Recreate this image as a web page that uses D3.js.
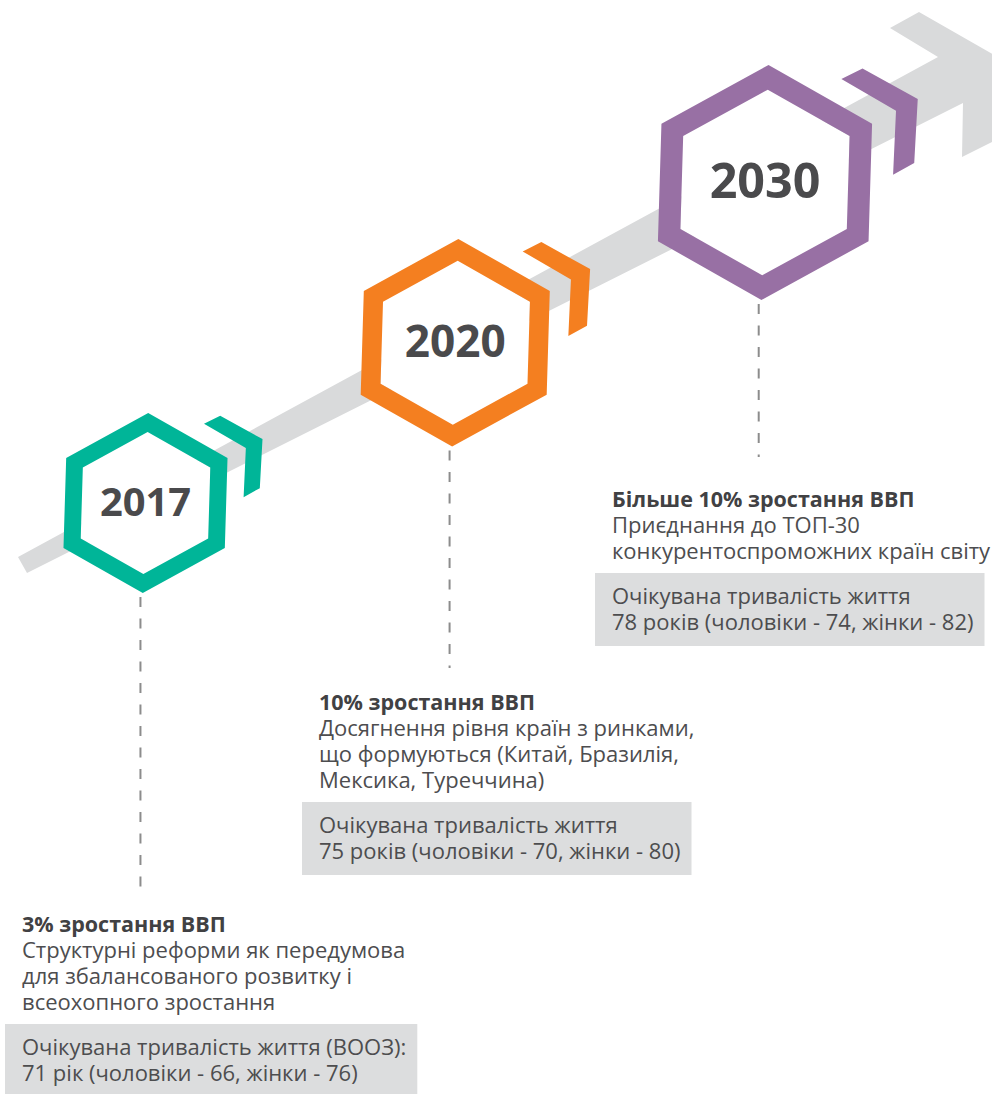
<!DOCTYPE html>
<html lang="uk">
<head>
<meta charset="UTF-8">
<title>Цілі розвитку 2017–2030</title>
<script src="https://d3js.org/d3.v7.min.js"></script>
<style>
  body { margin: 0; background: #fff; }
  svg { display: block; }
  text { font-family: "Open Sans", sans-serif; }
</style>
</head>
<body>
<script>
var w = 992, h = 1094;

// data
var years = [2017, 2020, 2030];
var titles = ["3% зростання ВВП", "10% зростання ВВП", "Більше 10% зростання ВВП"];
var goals = [
  ["Структурні реформи як передумова", "для збалансованого розвитку і", "всеохопного зростання"],
  ["Досягнення рівня країн з ринками,", "що формуються (Китай, Бразилія,", "Мексика, Туреччина)"],
  ["Приєднання до ТОП-30", "конкурентоспроможних країн світу"]
];
var lifeLines = [
  ["Очікувана тривалість життя (ВООЗ):", "71 рік (чоловіки - 66, жінки - 76)"],
  ["Очікувана тривалість життя", "75 років (чоловіки - 70, жінки - 80)"],
  ["Очікувана тривалість життя", "78 років (чоловіки - 74, жінки - 82)"]
];

// layout
var colors = ["#00b598", "#f47f20", "#9870a4"];
var blockX = [22, 319, 612];
var titleY = [932, 710, 507];
var lineEnd = [896, 668, 457];
var lineH = 26;

var svg = d3.select("body").append("svg")
  .attr("width", w)
  .attr("height", h);

// scales
var xScale = d3.scalePoint().domain(years).range([145.5, 765]);
var yScale = d3.scalePoint().domain(years).range([503, 182.5]);
var rScale = d3.scaleLinear().domain([0, 2]).range([90, 117.5]);
var color = d3.scaleOrdinal().domain(years).range(colors);

// grey arrow behind everything
var arrow = [
  [18, 557], [938, 57], [890, 28], [919, 12], [1010, 64], [1010, 133],
  [962, 157], [963, 103], [27, 573]
];
svg.append("path")
  .attr("d", d3.line()(arrow) + "Z")
  .attr("fill", "#d9dadb");

// hexagon vertices, slightly stretched and skewed like the original
function hexPoints(cx, cy, r) {
  var pts = [];
  for (var i = 0; i < 6; i++) {
    var a = Math.PI / 180 * (-90 + 60 * i);
    var x = Math.cos(a) * r * 1.035, y = Math.sin(a) * r;
    pts.push([cx + x - 0.03 * y, cy + y]);
  }
  return pts;
}
var chevron = [[0.65, -0.88], [0.83, -0.97], [1.30, -0.71], [1.27, -0.165], [1.09, -0.065], [1.115, -0.61]];

var marks = svg.selectAll("g.mark")
  .data(years)
  .enter()
  .append("g")
  .attr("class", "mark");

marks.each(function(d, i) {
  var g = d3.select(this);
  var cx = xScale(d), cy = yScale(d), r = rScale(i);
  var outer = hexPoints(cx, cy, r), inner = hexPoints(cx, cy, r * 0.79);

  // dashed connector
  g.append("line")
    .attr("x1", cx - 0.045 * r - 1)
    .attr("x2", cx - 0.045 * r - 1)
    .attr("y1", cy + r + 4)
    .attr("y2", lineEnd[i])
    .attr("stroke", "#8c8c8c")
    .attr("stroke-width", 2)
    .attr("stroke-dasharray", "10,11.5");

  g.append("path")
    .attr("d", d3.line()(inner) + "Z")
    .attr("fill", "#fff");

  g.append("path")
    .attr("d", d3.line()(outer) + "Z" + d3.line()(inner) + "Z")
    .attr("fill-rule", "evenodd")
    .attr("fill", color(d));

  g.append("path")
    .attr("d", d3.line()(chevron.map(function(p) { return [cx + p[0] * r, cy + p[1] * r]; })) + "Z")
    .attr("fill", color(d));

  var fs = 12 + 0.31 * r;
  g.append("text")
    .attr("x", cx)
    .attr("y", cy + 0.33 * fs)
    .attr("text-anchor", "middle")
    .attr("font-size", fs)
    .attr("font-weight", 700)
    .attr("fill", "#4a4a4c")
    .text(d);
});

// text blocks
years.forEach(function(d, i) {
  var x = blockX[i], y = titleY[i];
  var g = svg.append("g");

  g.append("text")
    .attr("x", x)
    .attr("y", y)
    .attr("font-size", 21.5)
    .attr("font-weight", 700)
    .attr("fill", "#414143")
    .text(titles[i]);

  g.selectAll("text.goal")
    .data(goals[i])
    .enter()
    .append("text")
    .attr("class", "goal")
    .attr("x", x)
    .attr("y", function(t, j) { return y + lineH * (j + 1); })
    .attr("font-size", 22)
    .attr("fill", "#4d4d4f")
    .text(function(t) { return t; });

  var boxTop = y + lineH * goals[i].length + 14;
  var box = g.append("rect")
    .attr("x", x - 17)
    .attr("y", boxTop)
    .attr("height", 73)
    .attr("fill", "#dcddde");

  var lt = g.selectAll("text.life")
    .data(lifeLines[i])
    .enter()
    .append("text")
    .attr("class", "life")
    .attr("x", x)
    .attr("y", function(t, j) { return boxTop + 31 + lineH * j; })
    .attr("font-size", 22)
    .attr("fill", "#4d4d4f")
    .text(function(t) { return t; });

  var maxW = d3.max(lt.nodes(), function(n) { return n.getComputedTextLength(); });
  box.attr("width", maxW + 28);
});
</script>
</body>
</html>
